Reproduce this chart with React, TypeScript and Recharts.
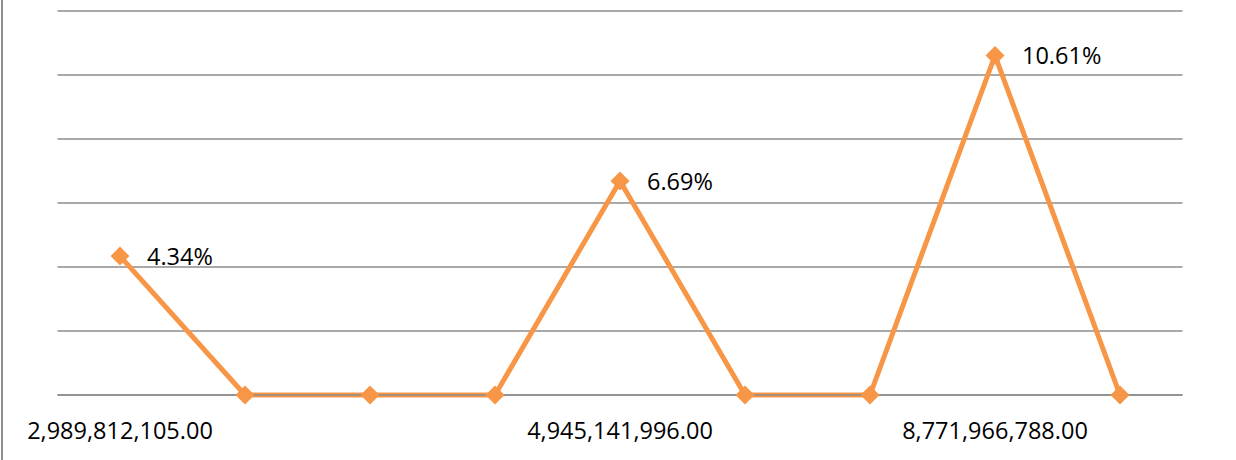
import React from 'react';
import { LineChart, Line, XAxis, YAxis, CartesianGrid, LabelList } from 'recharts';

const categories = [
  '2,989,812,105.00',
  '',
  '',
  '',
  '4,945,141,996.00',
  '',
  '',
  '8,771,966,788.00',
  '',
];

const rates = [4.34, 0, 0, 0, 6.69, 0, 0, 10.61, 0];

const yTicks = [0, 2, 4, 6, 8, 10, 12];

const data = categories.map((category, i) => ({ category, rate: rates[i] }));

const ORANGE = '#F79646';
const GRID = '#8c8c8c';
const FONT = '"Open Sans", sans-serif';

const Diamond = (props: any) => {
  const { cx, cy } = props;
  if (cx == null || cy == null) return null;
  const r = 9.5;
  return (
    <polygon
      points={`${cx},${cy - r} ${cx + r},${cy} ${cx},${cy + r} ${cx - r},${cy}`}
      fill={ORANGE}
    />
  );
};

const RateLabel = (props: any) => {
  const { x, y, value } = props;
  if (!value) return null;
  return (
    <text
      x={x + 27}
      y={y}
      dominantBaseline="central"
      textAnchor="start"
      fill="#000"
      fontFamily={FONT}
      fontSize={23.5}
    >
      {`${value.toFixed(2)}%`}
    </text>
  );
};

const App: React.FC = () => {
  return (
    <div style={{ position: 'fixed', top: 0, left: 0, width: 1236, height: 460, background: '#fff' }}>
      <div
        style={{
          position: 'absolute',
          left: 1,
          top: 0,
          width: 2,
          height: 460,
          background: '#8f8f8f',
        }}
      />
      <LineChart
        width={1236}
        height={460}
        data={data}
        margin={{ top: 11, right: 53.5, left: 57.5, bottom: 25 }}
      >
        <CartesianGrid vertical={false} stroke={GRID} strokeWidth={1.5} />
        <XAxis
          dataKey="category"
          height={40}
          padding={{ left: 62.5, right: 62.5 }}
          axisLine={{ stroke: GRID, strokeWidth: 1.5 }}
          tickLine={false}
          interval={0}
          tick={{ fill: '#000', fontSize: 23.5, fontFamily: FONT }}
          tickMargin={21}
        />
        <YAxis hide domain={[0, 12]} ticks={yTicks} />
        <Line
          type="linear"
          dataKey="rate"
          stroke={ORANGE}
          strokeWidth={5}
          dot={<Diamond />}
          activeDot={false}
          isAnimationActive={false}
        >
          <LabelList dataKey="rate" content={<RateLabel />} />
        </Line>
      </LineChart>
    </div>
  );
};

export default App;
